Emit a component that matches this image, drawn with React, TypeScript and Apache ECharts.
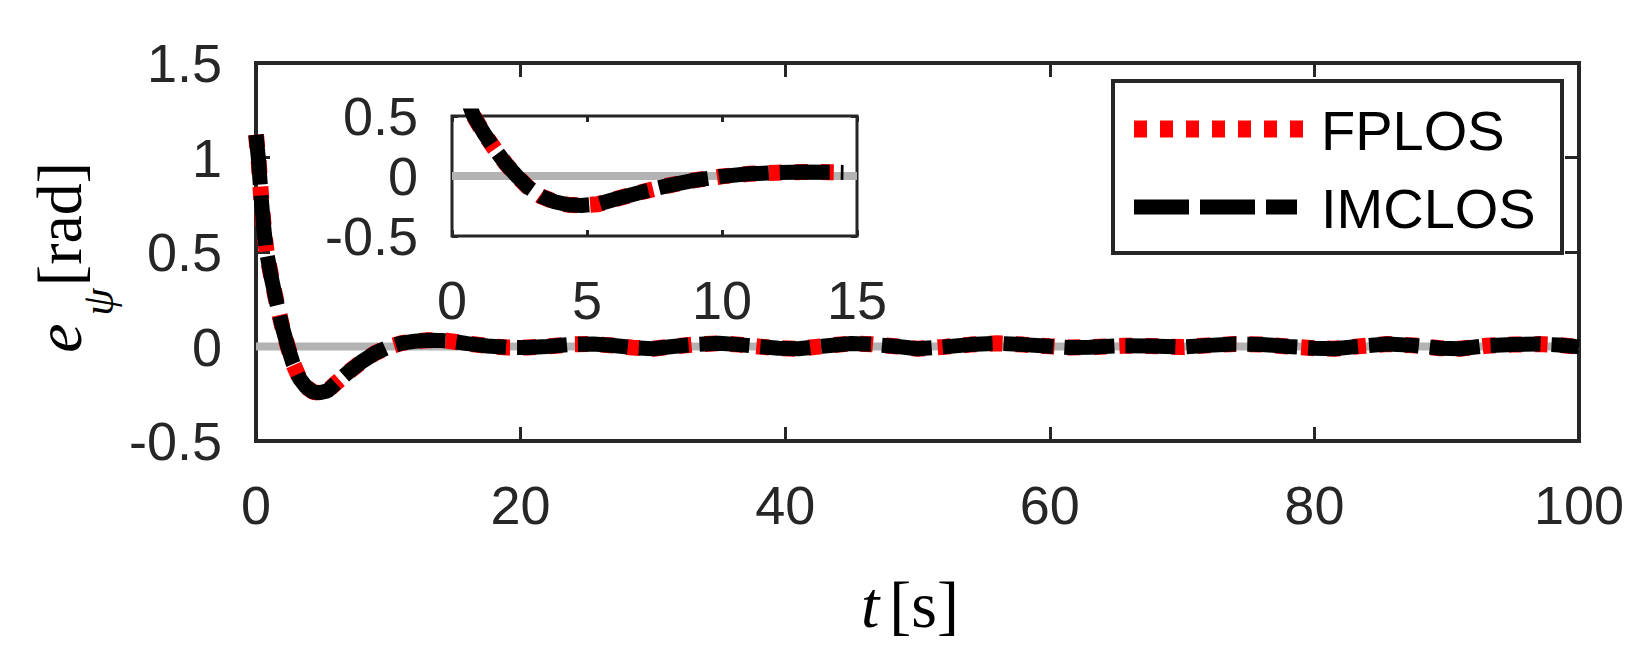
import React, { useEffect, useRef } from "react";
import * as echarts from "echarts";

// time [s]
const T = [
  0, 0.2, 0.4, 0.6, 0.8, 1.2, 1.6, 2.0, 2.4, 2.8, 3.3, 3.8, 4.3, 4.8, 5.4, 6.1, 7.0, 8.0, 9.0,
  10.0, 11.0, 12.0, 13.0, 14.0, 14.5, 15.0, 16.0, 17.5, 19.0, 20.5, 22.0, 24.0, 25.5, 27.0, 28.5,
  30.0, 31.5, 33.0, 35.0, 36.5, 38.0, 39.5, 41.0, 43.0, 45.0, 46.5, 48.5, 50.0, 52.0, 54.0, 56.0,
  58.0, 60.0, 61.5, 63.0, 65.5, 67.5, 70.0, 72.0, 74.0, 76.0, 78.0, 80.0, 81.5, 83.5, 85.5, 87.5,
  89.5, 91.0, 93.0, 95.0, 97.0, 98.5, 100.0,
];
// e_psi [rad], FPLOS
const FPLOS = [
  1.12, 0.98, 0.78, 0.62, 0.5, 0.35, 0.22, 0.1, 0.0, -0.09, -0.17, -0.215, -0.24, -0.245, -0.235,
  -0.19, -0.135, -0.08, -0.035, -0.003, 0.018, 0.028, 0.033, 0.032, 0.03, 0.025, 0.015, 0.003,
  -0.005, -0.005, 0.0, 0.012, 0.013, 0.005, -0.006, -0.012, 0.0, 0.01, 0.017, 0.01, 0.0, -0.009,
  -0.012, 0.003, 0.016, 0.012, 0.0, -0.012, -0.002, 0.01, 0.017, 0.01, 0.001, -0.005, -0.004, 0.004,
  0.003, -0.003, 0.006, 0.013, 0.011, 0.0, -0.009, -0.012, 0.002, 0.013, 0.006, -0.009, -0.012,
  0.004, 0.01, 0.013, 0.008, -0.002,
];
// e_psi [rad], IMCLOS
const IMCLOS = [
  1.12, 0.98, 0.78, 0.62, 0.5, 0.35, 0.22, 0.1, 0.0, -0.09, -0.17, -0.215, -0.24, -0.245, -0.235,
  -0.19, -0.135, -0.08, -0.035, -0.003, 0.018, 0.028, 0.033, 0.032, 0.03, 0.025, 0.015, 0.003,
  -0.005, -0.005, 0.0, 0.012, 0.013, 0.005, -0.006, -0.012, 0.0, 0.01, 0.017, 0.01, 0.0, -0.009,
  -0.012, 0.003, 0.016, 0.012, 0.0, -0.012, -0.002, 0.01, 0.017, 0.01, 0.001, -0.005, -0.004, 0.004,
  0.003, -0.003, 0.006, 0.013, 0.011, 0.0, -0.009, -0.012, 0.002, 0.013, 0.006, -0.009, -0.012,
  0.004, 0.01, 0.013, 0.008, -0.002,
];
// zero reference lines
const ZERO_MAIN_T = [0, 100];
const ZERO_INSET_T = [0, 15];
const ZERO_V = [0, 0];
const INSET_T_MAX = 14.5;

const SERIES_NAMES = ["FPLOS", "IMCLOS"];

const AX = "#262626";
const SANS = "Liberation Sans, Arial, Helvetica, sans-serif";
const SERIF = "Liberation Serif, Times New Roman, serif";

function pairs(xs: number[], ys: number[], xmax = Infinity) {
  const out: number[][] = [];
  for (let i = 0; i < xs.length; i++) if (xs[i] <= xmax) out.push([xs[i], ys[i]]);
  return out;
}

function xAxisDef(grid: number, max: number, interval: number, tickLen: number, top: boolean) {
  return {
    type: "value",
    gridIndex: grid,
    position: top ? "top" : "bottom",
    min: 0,
    max,
    interval,
    axisLine: { show: false, onZero: false },
    axisTick: { show: true, inside: true, length: tickLen, lineStyle: { color: AX, width: 3 } },
    axisLabel: {
      show: !top,
      margin: 37,
      fontSize: 54,
      fontFamily: SANS,
      color: AX,
    },
    splitLine: { show: false },
  };
}

function yAxisDef(grid: number, min: number, max: number, interval: number, tickLen: number, right: boolean) {
  return {
    type: "value",
    gridIndex: grid,
    position: right ? "right" : "left",
    min,
    max,
    interval,
    axisLine: { show: false, onZero: false },
    axisTick: { show: true, inside: true, length: tickLen, lineStyle: { color: AX, width: 3 } },
    axisLabel: {
      show: !right,
      margin: 34,
      fontSize: 54,
      fontFamily: SANS,
      color: AX,
    },
    splitLine: { show: false },
  };
}

function lineSeries(name: string, xi: number, data: number[][], color: string, width: number, type: any) {
  return {
    name,
    type: "line",
    xAxisIndex: xi,
    yAxisIndex: xi,
    data,
    showSymbol: false,
    symbol: "none",
    silent: true,
    clip: true,
    lineStyle: { color, width, type, cap: "butt", join: "bevel" },
  };
}

export default function App() {
  const ref = useRef<HTMLDivElement>(null);
  useEffect(() => {
    if (!ref.current) return;
    const chart = echarts.init(ref.current, undefined, { renderer: "svg" });
    const option: any = {
      animation: false,
      backgroundColor: "#ffffff",
      grid: [
        { left: 256, top: 63, width: 1323, height: 378, show: true, borderColor: AX, borderWidth: 4, backgroundColor: "transparent" },
        { left: 452, top: 116, width: 405, height: 120, show: true, borderColor: AX, borderWidth: 3, backgroundColor: "#ffffff" },
      ],
      xAxis: [
        xAxisDef(0, 100, 20, 14, false),
        xAxisDef(1, 15, 5, 6, false),
        xAxisDef(0, 100, 20, 14, true),
        xAxisDef(1, 15, 5, 6, true),
      ],
      yAxis: [
        yAxisDef(0, -0.5, 1.5, 0.5, 14, false),
        yAxisDef(1, -0.5, 0.5, 0.5, 6, false),
        yAxisDef(0, -0.5, 1.5, 0.5, 14, true),
        yAxisDef(1, -0.5, 0.5, 0.5, 6, true),
      ],
      series: [
        lineSeries("zero", 0, pairs(ZERO_MAIN_T, ZERO_V), "#b3b3b3", 8, "solid"),
        lineSeries(SERIES_NAMES[0], 0, pairs(T, FPLOS), "#ff0000", 16, [13, 13]),
        lineSeries(SERIES_NAMES[1], 0, pairs(T, IMCLOS), "#000000", 15, [50, 11]),
        lineSeries("zero-inset", 1, pairs(ZERO_INSET_T, ZERO_V), "#b3b3b3", 8, "solid"),
        lineSeries(SERIES_NAMES[0] + " ", 1, pairs(T, FPLOS, INSET_T_MAX), "#ff0000", 16, [13, 13]),
        lineSeries(SERIES_NAMES[1] + " ", 1, pairs(T, IMCLOS, INSET_T_MAX), "#000000", 15, [50, 11]),
      ],
      graphic: [
        // legend
        {
          type: "rect",
          z: 100,
          shape: { x: 1113, y: 81, width: 449, height: 172 },
          style: { fill: "#ffffff", stroke: AX, lineWidth: 4 },
        },
        {
          type: "line",
          z: 101,
          shape: { x1: 1134, y1: 129, x2: 1303, y2: 129 },
          style: { stroke: "#ff0000", lineWidth: 17, lineDash: [13, 13], lineCap: "butt" },
        },
        {
          type: "line",
          z: 101,
          shape: { x1: 1134, y1: 207, x2: 1297, y2: 207 },
          style: { stroke: "#000000", lineWidth: 15, lineDash: [55, 11], lineCap: "butt" },
        },
        {
          type: "text",
          z: 101,
          x: 1321,
          y: 130,
          style: { text: SERIES_NAMES[0], fontSize: 56, fontFamily: SANS, fill: "#000000", align: "left", verticalAlign: "middle" },
        },
        {
          type: "text",
          z: 101,
          x: 1321,
          y: 208,
          style: { text: SERIES_NAMES[1], fontSize: 56, fontFamily: SANS, fill: "#000000", align: "left", verticalAlign: "middle" },
        },
        // x axis title t[s]
        {
          type: "text",
          z: 101,
          x: 910,
          y: 604,
          style: {
            text: "{t|t}{s|[s]}",
            align: "center",
            verticalAlign: "middle",
            rich: {
              t: { fontSize: 66, fontFamily: SERIF, fontStyle: "italic", fill: "#000000", padding: [0, 10, 0, 0] },
              s: { fontSize: 66, fontFamily: SERIF, fill: "#000000" },
            },
          },
        },
        // y axis title e_psi[rad]
        {
          type: "text",
          z: 101,
          x: 58,
          y: 338,
          rotation: Math.PI / 2,
          style: { text: "e", fontSize: 66, fontFamily: SERIF, fontStyle: "italic", fill: "#000000", align: "center", verticalAlign: "middle" },
        },
        {
          type: "text",
          z: 101,
          x: 98,
          y: 302,
          rotation: Math.PI / 2,
          style: { text: "ψ", fontSize: 44, fontFamily: SERIF, fontStyle: "italic", fill: "#000000", align: "center", verticalAlign: "middle" },
        },
        {
          type: "text",
          z: 101,
          x: 59,
          y: 224,
          rotation: Math.PI / 2,
          style: { text: "[rad]", fontSize: 64, fontFamily: SERIF, fill: "#000000", align: "center", verticalAlign: "middle" },
        },
      ],
    };
    chart.setOption(option);
    return () => chart.dispose();
  }, []);
  return (
    <div
      ref={ref}
      style={{ position: "absolute", left: 0, top: 0, width: 1650, height: 659, background: "#ffffff" }}
    />
  );
}
